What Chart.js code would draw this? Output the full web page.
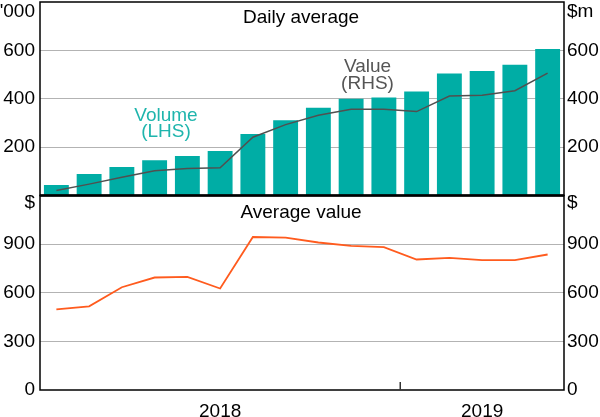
<!DOCTYPE html>
<html>
<head>
<meta charset="utf-8">
<script src="https://cdn.jsdelivr.net/npm/chart.js@4"></script>
<style>
  html, body { margin: 0; padding: 0; background: #fff; }
  #wrap { position: relative; width: 600px; height: 417px; overflow: hidden; }
  canvas { position: absolute; left: 0; }
  #top-chart { top: 0; }
  #bottom-chart { top: 190px; }
</style>
</head>
<body>
<div id="wrap">
  <canvas id="top-chart" width="600" height="198"></canvas>
  <canvas id="bottom-chart" width="600" height="227"></canvas>
</div>
<script>
// datos mensuales, feb-2018 a may-2019
const months = [
  "Feb-18", "Mar-18", "Apr-18", "May-18", "Jun-18", "Jul-18", "Aug-18", "Sep-18",
  "Oct-18", "Nov-18", "Dec-18", "Jan-19", "Feb-19", "Mar-19", "Apr-19", "May-19"
];
const volume = [43, 89, 118, 146, 163, 184, 254, 311, 363, 400, 405, 430, 504, 515, 541, 606]; // '000 (LHS)
const value = [21, 47, 75, 102, 112, 115, 241, 293, 332, 357, 357, 347, 411, 414, 433, 506]; // $m (RHS)
const avgValue = [497, 516, 634, 694, 698, 626, 944, 940, 910, 889, 881, 805, 815, 801, 801, 836]; // $

const topTicks = [0, 200, 400, 600, 800];
const bottomTicks = [0, 300, 600, 900, 1200];
const years = ["2018", "2019"];

const FONT = "Liberation Sans, Arial, sans-serif";
const TEAL = "#00ada5";
const GRID = "#b3b3b3";

Chart.defaults.font.family = FONT;
Chart.defaults.font.size = 19;
Chart.defaults.color = "#000";

// indice central de cada año, para poner la etiqueta
const yearOf = m => "20" + m.slice(-2);
const yearMid = {};
years.forEach(y => {
  const idx = months.map((m, i) => yearOf(m) === y ? i : -1).filter(i => i >= 0);
  yearMid[Math.round((idx[0] + idx[idx.length - 1]) / 2)] = y;
});
// primer mes del segundo año -> marca en el eje
const yearBreak = months.findIndex(m => yearOf(m) === years[1]) - 0.5;

const fixAxis = (w) => (s) => {
  s.width = w;
  s.paddingTop = 0;
  s.paddingBottom = 0;
};

const yAxis = (ticks, pos, w, hideTop, hideZero, onArea) => ({
  position: pos,
  min: ticks[0],
  max: ticks[ticks.length - 1],
  afterBuildTicks: s => { s.ticks = ticks.map(v => ({ value: v })); },
  afterFit: fixAxis(w),
  ticks: {
    padding: pos === "left" ? 5 : 3,
    callback: v => (hideTop && v === ticks[ticks.length - 1]) || (hideZero && v === 0) ? "" : v
  },
  grid: {
    drawOnChartArea: onArea,
    drawTicks: false,
    color: c => (c.tick && (c.tick.value === 0 || c.tick.value === ticks[ticks.length - 1])) ? "rgba(0,0,0,0)" : GRID
  },
  border: { display: false }
});

function frame(ctx, a, bottomWidth) {
  ctx.save();
  ctx.strokeStyle = "#000";
  ctx.lineWidth = 1.5;
  ctx.strokeRect(a.left, a.top, a.right - a.left, a.bottom - a.top);
  if (bottomWidth) {
    ctx.lineWidth = bottomWidth;
    ctx.beginPath();
    ctx.moveTo(a.left, a.bottom);
    ctx.lineTo(a.right, a.bottom);
    ctx.stroke();
  }
  ctx.restore();
}

const topText = {
  id: "topText",
  afterDraw(chart) {
    const ctx = chart.ctx;
    frame(ctx, chart.chartArea, 2.5);
    ctx.save();
    ctx.font = "19px " + FONT;
    ctx.fillStyle = "#000";
    ctx.textAlign = "right";
    ctx.fillText("'000", 35, 16.5);
    ctx.textAlign = "left";
    ctx.fillText("$m", 567, 16.5);
    ctx.textAlign = "center";
    ctx.fillText("Daily average", 301, 22.7);
    ctx.fillStyle = "#1fb5ad";
    ctx.fillText("Volume", 166, 120.5);
    ctx.fillText("(LHS)", 166, 137);
    ctx.fillStyle = "#555";
    ctx.fillText("Value", 367.5, 71.5);
    ctx.fillText("(RHS)", 367.5, 88.5);
    ctx.restore();
  }
};

const bottomText = {
  id: "bottomText",
  afterDraw(chart) {
    const ctx = chart.ctx;
    const a = chart.chartArea;
    frame(ctx, a, 0);
    ctx.save();
    // marca del cambio de año, hacia dentro
    const xb = chart.scales.x.getPixelForValue(yearBreak);
    ctx.strokeStyle = "#333";
    ctx.lineWidth = 1.5;
    ctx.beginPath();
    ctx.moveTo(xb, a.bottom);
    ctx.lineTo(xb, a.bottom - 8);
    ctx.stroke();
    ctx.font = "19px " + FONT;
    ctx.fillStyle = "#000";
    ctx.textAlign = "right";
    ctx.fillText("$", 35, 18.3);
    ctx.textAlign = "left";
    ctx.fillText("$", 567, 18.3);
    ctx.textAlign = "center";
    ctx.fillText("Average value", 301, 28.3);
    ctx.restore();
  }
};

const topChart = new Chart(document.querySelector("#top-chart"), {
  data: {
    labels: months,
    datasets: [
      {
        type: "line",
        label: "Value (RHS)",
        data: value,
        yAxisID: "yR",
        borderColor: "#505050",
        borderWidth: 1.5,
        pointRadius: 0,
        tension: 0
      },
      {
        type: "bar",
        label: "Volume (LHS)",
        data: volume,
        yAxisID: "y",
        backgroundColor: TEAL,
        barPercentage: 0.76,
        categoryPercentage: 1
      }
    ]
  },
  options: {
    responsive: false,
    animation: false,
    layout: { padding: { top: 2, bottom: 2.5, left: 0, right: 0 } },
    plugins: { legend: { display: false }, tooltip: { enabled: false } },
    scales: {
      x: { display: false },
      y: yAxis(topTicks, "left", 40, true, true, true),
      yR: yAxis(topTicks, "right", 36, true, true, false)
    }
  },
  plugins: [topText]
});

const bottomChart = new Chart(document.querySelector("#bottom-chart"), {
  type: "line",
  data: {
    labels: months,
    datasets: [
      {
        label: "Average value",
        data: avgValue,
        yAxisID: "y",
        borderColor: "#ff5b1e",
        borderWidth: 1.8,
        pointRadius: 0,
        tension: 0
      }
    ]
  },
  options: {
    responsive: false,
    animation: false,
    layout: { padding: { top: 5.5, bottom: 0, left: 0, right: 0 } },
    plugins: { legend: { display: false }, tooltip: { enabled: false } },
    scales: {
      x: {
        offset: true,
        afterFit: s => { s.height = 27; s.paddingLeft = 0; s.paddingRight = 0; },
        ticks: {
          autoSkip: false,
          maxRotation: 0,
          padding: 2,
          callback: (v, i) => yearMid[i] || ""
        },
        grid: { display: false },
        border: { display: false }
      },
      y: yAxis(bottomTicks, "left", 40, true, false, true),
      yR: yAxis(bottomTicks, "right", 36, true, false, false)
    }
  },
  plugins: [bottomText]
});
</script>
</body>
</html>
